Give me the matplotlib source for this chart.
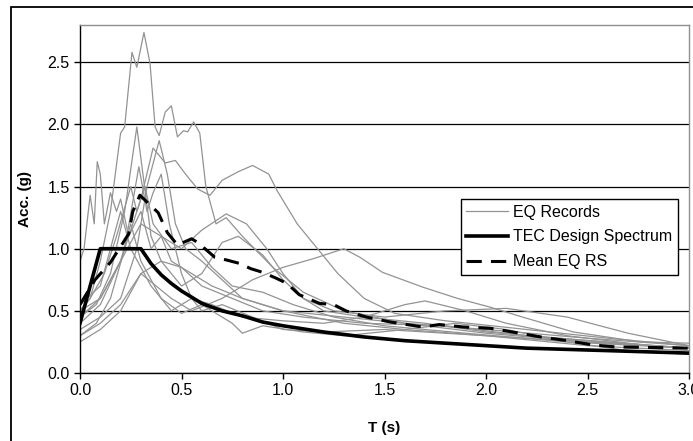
import matplotlib
matplotlib.use("Agg")
import matplotlib.pyplot as plt
from matplotlib.patches import Rectangle

plt.rcParams["font.family"] = ["Liberation Sans", "DejaVu Sans"]

# =====================================================
# DATA
# =====================================================
# individual earthquake record response spectra: (periods, accelerations)
rec_a_t = [0, .05, .1, .15, .2, .22, .256, .28, .315, .345, .37, .39, .42, .45, .48, .51, .53, .56, .59, .62, .67, .72, .8, .95, 1.1, 1.3, 1.6, 2.0, 2.5, 3.0]
rec_a_sa = [.5, .6, .9, 1.3, 1.93, 1.98, 2.58, 2.46, 2.74, 2.49, 1.98, 1.91, 2.1, 2.15, 1.9, 1.95, 1.94, 2.02, 1.93, 1.5, 1.2, 1.25, 1.1, .85, .65, .5, .4, .35, .28, .22]

rec_b_t = [0, .1, .2, .3, .36, .42, .47, .52, .58, .64, .7, .78, .85, .93, .97, 1.07, 1.17, 1.27, 1.4, 1.55, 1.8, 2.2, 2.6, 3.0]
rec_b_sa = [.5, .6, .9, 1.4, 1.81, 1.69, 1.71, 1.6, 1.48, 1.43, 1.55, 1.62, 1.67, 1.6, 1.47, 1.2, 1.0, .8, .6, .48, .42, .35, .28, .22]

rec_c_t = [0, .08, .15, .22, .28, .31, .35, .4, .5, .6, .75, .9, 1.1, 1.4, 1.8, 2.2, 2.6, 3.0]
rec_c_sa = [.45, .55, .8, 1.3, 1.98, 1.6, 1.1, .9, .85, .7, .6, .5, .45, .4, .38, .3, .25, .2]

rec_d_t = [0, .1, .2, .28, .33, .39, .43, .47, .52, .6, .7, .8, 1.0, 1.3, 1.6, 2.0, 2.5, 3.0]
rec_d_sa = [.35, .45, .6, 1.0, 1.5, 1.87, 1.6, 1.2, 1.0, .9, .75, .6, .5, .45, .4, .32, .25, .2]

rec_e_t = [0, .02, .05, .07, .085, .1, .12, .15, .18, .2, .24, .3, .35, .4, .45, .55, .65, .8, 1.0, 1.3, 1.6, 2.0, 2.5, 3.0]
rec_e_sa = [.9, 1.0, 1.43, 1.2, 1.7, 1.6, 1.2, 1.45, 1.3, 1.4, 1.1, 1.3, 1.0, 1.1, .9, .8, .7, .6, .5, .4, .35, .3, .25, .2]

rec_f_t = [0, .08, .15, .22, .29, .33, .36, .4, .44, .5, .55, .6, .7, .85, 1.0, 1.2, 1.5, 2.0, 2.5, 3.0]
rec_f_sa = [.3, .4, .6, 1.0, 1.66, 1.3, 1.45, 1.6, 1.2, .8, .6, .5, .55, .45, .35, .33, .35, .3, .22, .18]

rec_g_t = [0, .1, .2, .3, .4, .5, .6, .72, .82, .92, 1.0, 1.1, 1.2, 1.4, 1.7, 2.0, 2.5, 3.0]
rec_g_sa = [.45, .6, .9, 1.2, 1.1, 1.0, 1.15, 1.28, 1.2, 1.0, .8, .6, .5, .45, .4, .33, .26, .2]

rec_h_t = [0, .1, .2, .3, .4, .5, .6, .7, .78, .9, 1.0, 1.1, 1.25, 1.5, 1.8, 2.1, 2.4, 2.7, 3.0]
rec_h_sa = [.3, .4, .55, .8, .9, .7, .8, 1.05, 1.1, .95, .75, .6, .5, .45, .5, .52, .45, .32, .22]

rec_i_t = [0, .1, .2, .3, .45, .55, .7, .85, 1.0, 1.15, 1.3, 1.38, 1.49, 1.69, 1.86, 2.02, 2.18, 2.43, 2.76, 3.0]
rec_i_sa = [.25, .35, .5, .8, .6, .5, .6, .75, .85, .92, 1.0, .93, .81, .69, .6, .53, .45, .33, .25, .24]

rec_j_t = [0, .1, .2, .25, .3, .4, .5, .6, .75, .8, .9, 1.1, 1.3, 1.6, 1.85, 2.1, 2.4, 2.7, 3.0]
rec_j_sa = [.4, .55, .9, 1.2, .9, .6, .48, .55, .4, .32, .38, .33, .3, .35, .4, .35, .25, .18, .15]

rec_k_t = [0, .1, .15, .2, .25, .35, .45, .55, .65, .8, 1.0, 1.2, 1.4, 1.6, 1.7, 1.9, 2.1, 2.4, 2.8, 3.0]
rec_k_sa = [.55, .7, 1.0, 1.3, 1.0, .7, .5, .6, .55, .45, .42, .4, .45, .55, .58, .5, .4, .3, .22, .2]

rec_l_t = [0, .05, .12, .18, .25, .28, .32, .36, .45, .55, .65, .75, .9, 1.05, 1.25, 1.5, 1.9, 2.4, 3.0]
rec_l_sa = [.5, .6, .8, 1.1, 1.5, 1.3, 1.5, 1.2, 1.0, 1.05, .85, .7, .65, .55, .45, .38, .32, .25, .2]

records = [
    (rec_a_t, rec_a_sa), (rec_b_t, rec_b_sa), (rec_c_t, rec_c_sa),
    (rec_d_t, rec_d_sa), (rec_e_t, rec_e_sa), (rec_f_t, rec_f_sa),
    (rec_g_t, rec_g_sa), (rec_h_t, rec_h_sa), (rec_i_t, rec_i_sa),
    (rec_j_t, rec_j_sa), (rec_k_t, rec_k_sa), (rec_l_t, rec_l_sa),
]

# TEC design spectrum
tec_t = [0, 0.1, 0.3, 0.35, 0.4, 0.45, 0.5, 0.6, 0.7, 0.8, 0.9, 1.0, 1.2, 1.4, 1.6, 1.8, 2.0, 2.2, 2.4, 2.6, 2.8, 3.0]
tec_sa = [0.4, 1.0, 1.0, 0.88, 0.79, 0.72, 0.66, 0.56, 0.50, 0.46, 0.41, 0.38, 0.33, 0.29, 0.26, 0.24, 0.22, 0.20, 0.19, 0.18, 0.17, 0.16]

# mean of the EQ response spectra
mean_t = [0, .074, .15, .24, .26, .295, .385, .43, .48, .55, .58, .665, .72, .79, .84, .9, .97, 1.02, 1.08, 1.18, 1.25, 1.31, 1.41, 1.53, 1.69, 1.77, 1.89, 2.02, 2.13, 2.27, 2.4, 2.53, 2.64, 3.0]
mean_sa = [.55, .75, .89, 1.12, 1.3, 1.43, 1.29, 1.13, 1.03, 1.08, 1.05, .93, .91, .88, .84, .81, .76, .72, .63, .56, .55, .5, .45, .41, .37, .39, .37, .36, .33, .29, .26, .225, .21, .20]

x_ticks = [0.0, 0.5, 1.0, 1.5, 2.0, 2.5, 3.0]
y_ticks = [0.0, 0.5, 1.0, 1.5, 2.0, 2.5]

# =====================================================
# PLOT
# =====================================================
W, H = 693, 441
fig = plt.figure(figsize=(W / 100, H / 100), dpi=100)
ax = fig.add_axes([80 / W, (H - 373) / H, 609 / W, 348 / H])

for i, (t, sa) in enumerate(records):
    ax.plot(t, sa, color="#939393", lw=0.9,
            label="EQ Records" if i == 0 else None, zorder=2)
ax.plot(tec_t, tec_sa, color="black", lw=2.6, label="TEC Design Spectrum",
        solid_joinstyle="round", zorder=3)
ax.plot(mean_t, mean_sa, color="black", lw=2.2, dashes=(5, 3),
        label="Mean EQ RS", zorder=4)

ax.set_xlim(0, 3.0)
ax.set_ylim(0, 2.8)
ax.set_xticks(x_ticks)
ax.set_yticks(y_ticks)
ax.set_xticklabels([f"{v:.1f}" for v in x_ticks])
ax.set_yticklabels([f"{v:.1f}" for v in y_ticks])
ax.tick_params(direction="out", length=4, width=1, labelsize=11.5, color="black")
ax.yaxis.grid(True, color="black", lw=0.9)
ax.set_axisbelow(True)

for side in ["top", "right"]:
    ax.spines[side].set_color("#8f8f8f")
    ax.spines[side].set_linewidth(1)
for side in ["left", "bottom"]:
    ax.spines[side].set_color("black")
    ax.spines[side].set_linewidth(1)

leg = ax.legend(loc="upper right", bbox_to_anchor=((678 - 80) / 609, (373 - 199) / 348),
                borderaxespad=0, fontsize=11.5, frameon=True, fancybox=False,
                edgecolor="black", framealpha=1, handlelength=2.6,
                handletextpad=0.35, labelspacing=0.62, borderpad=0.35)
leg.get_frame().set_linewidth(1)
leg.set_zorder(10)

fig.text(25 / W, 1 - 199 / H, "Acc. (g)", rotation=90, ha="center", va="center",
         fontsize=11, fontweight="bold")
fig.text(384.5 / W, 1 - 428 / H, "T (s)", ha="center", va="center",
         fontsize=11, fontweight="bold")

# outer chart border (runs past the right/bottom edge of the image)
fig.patches.append(Rectangle((11 / W, -0.1), 1.2, 1 - 7 / H + 0.1,
                             transform=fig.transFigure, fill=False,
                             edgecolor="black", lw=1.3))

fig.savefig("out.png", dpi=100)
